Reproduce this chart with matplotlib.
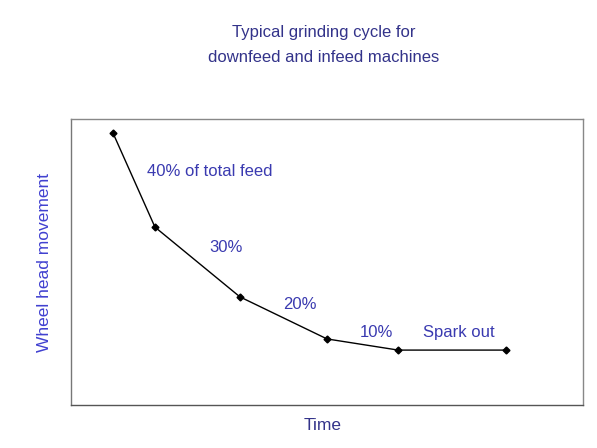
import matplotlib
matplotlib.use("Agg")
import matplotlib.pyplot as plt

# grinding cycle points (arbitrary units, axes span 0..100)
time = [8.2, 16.4, 33.0, 50.0, 63.9, 85.0]
movement = [95.1, 62.2, 37.8, 23.1, 19.2, 19.2]
labels = ["40% of total feed", "30%", "20%", "10%", "Spark out"]
label_x = [14.8, 27.1, 41.4, 56.4, 68.8]
label_y = [81.8, 54.9, 35.3, 25.2, 25.2]

plt.rcParams["font.family"] = ["Liberation Sans", "DejaVu Sans"]
txt = "#3a3ab0"

fig = plt.figure(figsize=(5.97, 4.48), dpi=100)
ax = fig.add_axes([71/597, 1-405/448, 512/597, 286/448])
ax.plot(time, movement, color="black", lw=1.0, marker="D", ms=3.5)
for s, x, y in zip(labels, label_x, label_y):
    ax.text(x, y, s, color=txt, fontsize=12, va="center", ha="left")
ax.set_xlim(0, 100); ax.set_ylim(0, 100)
ax.set_xticks([]); ax.set_yticks([])
for sp in ax.spines.values():
    sp.set_color("#888888"); sp.set_linewidth(1.0)
ax.spines["bottom"].set_color("#555555"); ax.spines["left"].set_color("#777777")
fig.text(324/597, 1-33/448, "Typical grinding cycle for", ha="center", va="center", fontsize=12, color="#33338a")
fig.text(324/597, 1-58/448, "downfeed and infeed machines", ha="center", va="center", fontsize=12, color="#33338a")
fig.text(45/597, 1-262/448, "Wheel head movement", rotation=90, ha="center", va="center", fontsize=12.5, color="#4040d0")
fig.text(323/597, 1-425/448, "Time", ha="center", va="center", fontsize=12.5, color="#33338a")
fig.savefig("out.png", dpi=100)
